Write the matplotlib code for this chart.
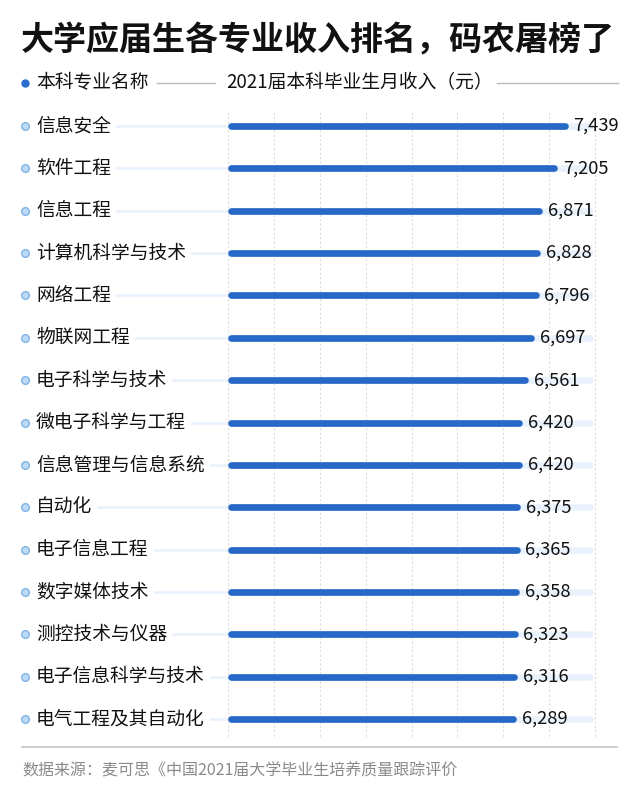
import numpy as np
import matplotlib
matplotlib.use('Agg')
import matplotlib.pyplot as plt
from matplotlib.transforms import blended_transform_factory

plt.rcParams['font.family'] = ['Noto Sans CJK SC', 'DejaVu Sans']

title = '大学应届生各专业收入排名，码农屠榜了'
header_left = '本科专业名称'
header_right = '2021届本科毕业生月收入（元）'
source = '数据来源：麦可思《中国2021届大学毕业生培养质量跟踪评价'

majors = ['信息安全', '软件工程', '信息工程', '计算机科学与技术', '网络工程',
          '物联网工程', '电子科学与技术', '微电子科学与工程', '信息管理与信息系统',
          '自动化', '电子信息工程', '数字媒体技术', '测控技术与仪器',
          '电子信息科学与技术', '电气工程及其自动化']
income = [7439, 7205, 6871, 6828, 6796, 6697, 6561, 6420, 6420,
          6375, 6365, 6358, 6323, 6316, 6289]

W, H = 640, 799
blue = '#2767c6'
pale = '#e9f2fc'

fig = plt.figure(figsize=(W / 100, H / 100), dpi=100)

# bar area: x from 228 to 597 px, rows from 126 to 719 px
step = (719 - 126) / (len(majors) - 1)
ax = fig.add_axes([228 / W, 1 - (719 + step / 2) / H, (597 - 228) / W,
                   (593 + step) / H])
px = 0.04482  # pixels per yuan
xmin = -3.3 / px
xmax = xmin + (597 - 228) / px
ax.set_xlim(xmin, xmax)
ax.set_ylim(len(majors) - 0.5, -0.5)
ax.axis('off')

# dotted grid
for gx in np.linspace(xmin, xmin + 367 / px, 9):
    ax.plot([gx, gx], [-0.33, len(majors) - 0.57], color='#dcdcdc', lw=0.8,
            ls=(0, (2, 2)), zorder=0)

track_end = xmin + 362 / px
for i, (m, v) in enumerate(zip(majors, income)):
    ax.plot([0, track_end], [i, i], color=pale, lw=4.8, solid_capstyle='round', zorder=1)
    ax.plot([0, v], [i, i], color=blue, lw=4.8, solid_capstyle='round', zorder=2)
    ax.text(v + 8.5 / px, i, f'{v:,}', fontsize=13.2, color='#111111',
            va='center', ha='left', zorder=3)

# labels on the left
trans = blended_transform_factory(fig.transFigure, ax.transData)
fig.canvas.draw()
renderer = fig.canvas.get_renderer()
for i, m in enumerate(majors):
    ax.plot([25 / W], [i], marker='o', ms=5.5, mfc='#bcdaf5', mec='#80b3e4',
            mew=1, transform=trans, clip_on=False)
    t = ax.text(36 / W, i, m, fontsize=13.5, color='#111111', va='center',
                ha='left', transform=trans)
    bb = t.get_window_extent(renderer)
    x0 = (bb.x1 + 6) / W
    ax.plot([x0, 230 / W], [i, i], color=pale, lw=2, transform=trans,
            clip_on=False, zorder=0)

# title
fig.text(21 / W, 1 - 41 / H, title, fontsize=23.8, fontweight='black',
         color='#111111', va='center', ha='left')

# header row
hy = 1 - 83 / H
fig.lines.append(plt.Line2D([25 / W], [hy], marker='o', ms=5, color='#2a6ccf',
                            transform=fig.transFigure))
fig.text(36 / W, hy, header_left, fontsize=13.5, color='#111111', va='center')
fig.lines.append(plt.Line2D([157 / W, 215 / W], [hy, hy], color='#b8b8b8', lw=1,
                            transform=fig.transFigure))
fig.text(226 / W, hy, header_right, fontsize=13.5, color='#111111', va='center')
fig.lines.append(plt.Line2D([497 / W, 618 / W], [hy, hy], color='#b8b8b8', lw=1,
                            transform=fig.transFigure))

# footer
fig.lines.append(plt.Line2D([22 / W, 617 / W], [1 - 747 / H, 1 - 747 / H],
                            color='#c4c4c4', lw=1.2, transform=fig.transFigure))
fig.text(22 / W, 1 - 771 / H, source, fontsize=11.5, color='#8a8a8a', va='center')

fig.savefig('out.png', dpi=100, facecolor='white')
